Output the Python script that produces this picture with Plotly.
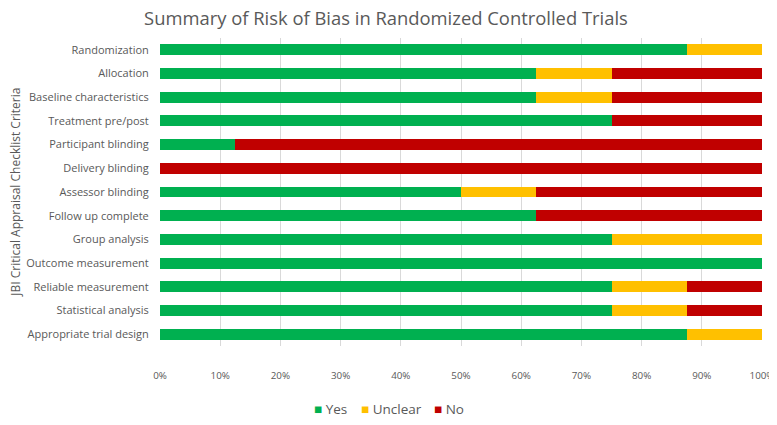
import plotly.graph_objects as go

criteria = [
    "Randomization", "Allocation", "Baseline characteristics", "Treatment pre/post",
    "Participant blinding", "Delivery blinding", "Assessor blinding", "Follow up complete",
    "Group analysis", "Outcome measurement", "Reliable measurement",
    "Statistical analysis", "Appropriate trial design",
]
yes = [87.5, 62.5, 62.5, 75, 12.5, 0, 50, 62.5, 75, 100, 75, 75, 87.5]
unclear = [12.5, 12.5, 12.5, 0, 0, 0, 12.5, 0, 25, 0, 12.5, 12.5, 12.5]
no = [0, 25, 25, 25, 87.5, 100, 37.5, 37.5, 0, 0, 12.5, 12.5, 0]
tick_vals = [0, 10, 20, 30, 40, 50, 60, 70, 80, 90, 100]
tick_text = [f"{v}%" for v in tick_vals]

series = [("Yes", yes, "#00B050"), ("Unclear", unclear, "#FFC000"), ("No", no, "#C00000")]

fig = go.Figure()
for name, vals, col in series:
    fig.add_trace(go.Bar(y=criteria, x=vals, name=name, orientation="h",
                         marker=dict(color=col, line=dict(width=0))))

# page has an 8px body margin, so the figure is smaller than the window
fig.update_layout(
    barmode="stack",
    bargap=0.54,
    width=769, height=409,
    margin=dict(l=152, r=15, t=30, b=71),
    paper_bgcolor="white", plot_bgcolor="white",
    font=dict(family="Open Sans", color="#595959", size=11),
    title=dict(text="Summary of Risk of Bias in Randomized Controlled Trials",
               x=0.4915, xanchor="center", y=0.975, yanchor="middle",
               font=dict(size=18.4, color="#595959")),
    showlegend=False,
)
fig.update_xaxes(range=[0, 100], tickvals=tick_vals, ticktext=tick_text,
                 showgrid=True, gridcolor="#D9D9D9", gridwidth=1, zeroline=False,
                 ticks="outside", ticklen=20, tickcolor="white",
                 tickfont=dict(size=9.8), automargin=False)
fig.update_yaxes(autorange="reversed", showgrid=False, ticks="outside", ticklen=8,
                 tickcolor="white", tickfont=dict(size=11), automargin=False)
fig.add_annotation(text="JBI Critical Appraisal Checklist Criteria", textangle=-90,
                   xref="paper", yref="paper", x=-0.2413, xanchor="center", y=0.5,
                   showarrow=False, font=dict(size=12, color="#595959"))

# legend drawn as text: coloured square + label
legend_x = [0.252, 0.33, 0.452]
for (name, vals, col), lx in zip(series, legend_x):
    fig.add_annotation(text=f'<span style="color:{col}">■</span> {name}',
                       xref="paper", yref="paper", x=lx, xanchor="left",
                       y=-0.203, yanchor="middle", showarrow=False,
                       font=dict(size=13.5, color="#595959"))

fig.write_html("out.html")
